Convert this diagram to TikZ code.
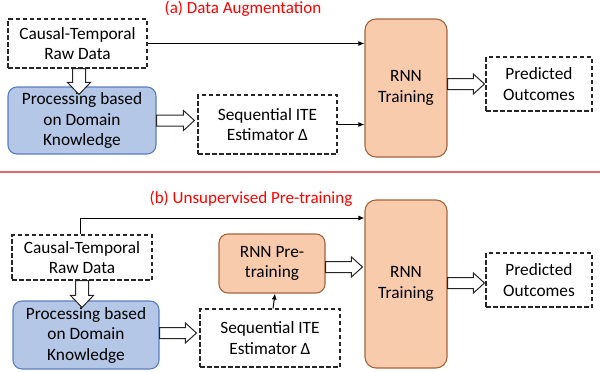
\documentclass[tikz,border=0pt]{standalone}
\usepackage{fontspec}
\setmainfont{Carlito}
\usetikzlibrary{arrows.meta,calc}
\definecolor{procfill}{HTML}{B4C7E7}
\definecolor{procdraw}{HTML}{5A7EBF}
\definecolor{rnnfill}{HTML}{F8CBAD}
\definecolor{rnndraw}{HTML}{A5643C}
\definecolor{titlered}{HTML}{FF0000}
\definecolor{seprule}{HTML}{F06464}
\tikzset{
  box/.style={inner sep=0pt, align=center, font=\fontsize{17.3}{20.5}\selectfont, line width=1.1pt},
  dashbox/.style={box, draw=black!85, dash pattern=on 4.5pt off 2.5pt},
  procbox/.style={box, draw=procdraw, fill=procfill, rounded corners=9pt},
  rnnbox/.style={box, draw=rnndraw, fill=rnnfill, rounded corners=11pt},
  heading/.style={text=titlered, font=\fontsize{17}{20}\selectfont, inner sep=0pt},
  thin arrow/.style={draw=black, line width=1pt, -{Latex[length=6pt,width=5pt]}},
  hollow/.style={draw=black!85, fill=white, line width=1pt, line join=miter},
}
% hollow block arrows: horizontal (#1 -> #2 at the height of #1) and downward
\newcommand\hollowright[2]{%
  \path[hollow] let \p1=(#1), \p2=(#2) in
    (\x1,\y1+5.5pt) -- (\x2-11pt,\y1+5.5pt) -- (\x2-11pt,\y1+10pt) -- (\x2,\y1)
    -- (\x2-11pt,\y1-10pt) -- (\x2-11pt,\y1-5.5pt) -- (\x1,\y1-5.5pt) -- cycle;}
\newcommand\hollowdown[2]{%
  \path[hollow] let \p1=(#1), \p2=(#2) in
    (\x1-6.5pt,\y1) -- (\x1-6.5pt,\y2+12pt) -- (\x1-11.5pt,\y2+12pt) -- (\x1,\y2)
    -- (\x1+11.5pt,\y2+12pt) -- (\x1+6.5pt,\y2+12pt) -- (\x1+6.5pt,\y1) -- cycle;}
\begin{document}
\begin{tikzpicture}[x=1pt,y=-1pt]
\useasboundingbox (0,0) rectangle (600,372);

% ---------- (a) data augmentation ----------
\node[heading] (ta) at (243,9) {(a) Data Augmentation};
\node[dashbox, minimum width=139pt, minimum height=49pt] (araw) at (77.5,43.5) {Causal-Temporal\\Raw Data};
\node[procbox, minimum width=148pt, minimum height=67pt] (aproc) at (82,120.5) {Processing based\\on Domain\\Knowledge};
\node[dashbox, minimum width=139pt, minimum height=59pt] (aite) at (267.5,124.5) {Sequential ITE\\Estimator Δ};
\node[rnnbox, minimum width=82pt, minimum height=138pt] (arnn) at (406,88) {RNN\\Training};
\node[dashbox, minimum width=106pt, minimum height=54pt] (apred) at (539,84) {Predicted\\Outcomes};

\coordinate (arawtip) at ($(aproc.north)+(-3,8)$);
\hollowdown{araw.south -| arawtip}{arawtip}
\coordinate (aitetip) at ($(aite.west)+(-3,0)$);
\hollowright{aproc.east}{aitetip}
\coordinate (apredtip) at ($(apred.west)+(-1,0)$);
\hollowright{arnn.east |- apred.west}{apredtip}
\draw[thin arrow] (araw.east) -- (araw.east -| arnn.west);
\draw[thin arrow] (aite.east) -- (aite.east -| arnn.west);

% separator
\draw[seprule, line width=1.6pt] (0,172) -- (600,172);

% ---------- (b) unsupervised pre-training ----------
\node[heading] (tb) at (251,199) {(b) Unsupervised Pre-training};
\node[dashbox, minimum width=140pt, minimum height=45pt] (braw) at (82,257.5) {Causal-Temporal\\Raw Data};
\node[procbox, minimum width=146pt, minimum height=68pt] (bproc) at (86,335) {Processing based\\on Domain\\Knowledge};
\node[dashbox, minimum width=140pt, minimum height=58pt] (bite) at (270,338) {Sequential ITE\\Estimator Δ};
\node[rnnbox, minimum width=106pt, minimum height=59pt, rounded corners=9pt] (bpre) at (272,263.5) {RNN Pre-\\training};
\node[rnnbox, minimum width=82pt, minimum height=168pt] (brnn) at (406,284) {RNN\\Training};
\node[dashbox, minimum width=106pt, minimum height=54pt] (bpred) at (539,280) {Predicted\\Outcomes};

\coordinate (brawtip) at ($(bproc.north)+(-4,7)$);
\hollowdown{braw.south -| brawtip}{brawtip}
\coordinate (bitetip) at ($(bite.west)+(-3,-5)$);
\hollowright{bproc.east |- bitetip}{bitetip}
\coordinate (bpretip) at ($(brnn.west)+(-2,-17)$);
\hollowright{bpre.east |- bpretip}{bpretip}
\coordinate (bpredtip) at ($(bpred.west)+(-1,3)$);
\hollowright{brnn.east |- bpredtip}{bpredtip}
\coordinate (bbend) at (80,218);
\draw[thin arrow] (braw.north -| bbend) -- (bbend) -- (bbend -| brnn.west);
\draw[thin arrow] ([xshift=3pt]bite.north) -- ([xshift=3pt]bpre.south);
\end{tikzpicture}
\end{document}
